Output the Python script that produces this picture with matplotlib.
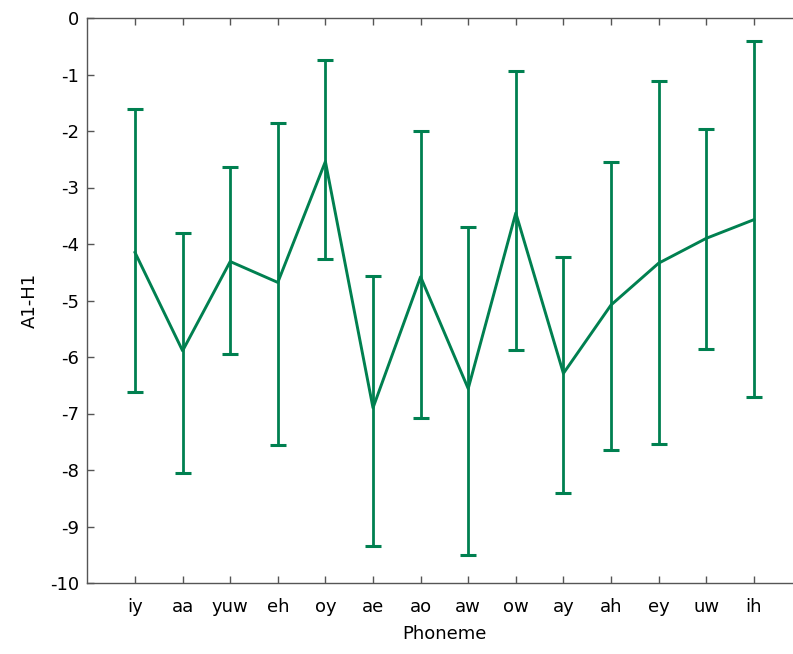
import numpy as np
import matplotlib
matplotlib.use("Agg")
import matplotlib.pyplot as plt

phonemes = ["iy", "aa", "yuw", "eh", "oy", "ae", "ao", "aw", "ow", "ay", "ah", "ey", "uw", "ih"]
mean_a1h1 = [-4.15, -5.89, -4.31, -4.68, -2.54, -6.90, -4.58, -6.56, -3.45, -6.29, -5.08, -4.34, -3.90, -3.57]
upper = [-1.61, -3.81, -2.63, -1.85, -0.75, -4.56, -2.00, -3.70, -0.94, -4.23, -2.54, -1.11, -1.97, -0.41]
lower = [-6.62, -8.05, -5.95, -7.56, -4.26, -9.35, -7.08, -9.51, -5.88, -8.41, -7.64, -7.54, -5.85, -6.70]

green = "#008050"
spine_col = "#555555"

mean_a1h1 = np.array(mean_a1h1)
err = [mean_a1h1 - np.array(lower), np.array(upper) - mean_a1h1]
x = np.arange(1, len(phonemes) + 1)

plt.rcParams["font.family"] = "DejaVu Sans"
plt.rcParams["axes.unicode_minus"] = False
fig = plt.figure(figsize=(7.93, 6.54), dpi=100)
W, H = 793, 654
# axes run a little past the right edge of the figure
ax = fig.add_axes([87.4 / W, 71 / H, (801.4 - 87.4) / W, (583 - 18) / H])

ax.errorbar(x, mean_a1h1, yerr=err, color=green, lw=2.1, elinewidth=2.0,
            capsize=5.5, capthick=2.2)

ax.set_xlim(0, 15)
ax.set_ylim(-10, 0)
ax.set_yticks(np.arange(-10, 1, 1))
ax.set_xticks(x)
ax.set_xticklabels(phonemes)
ax.tick_params(direction="in", length=5, width=1, color=spine_col,
               labelsize=13, top=True, right=False, pad=6)
ax.tick_params(axis="x", pad=11)
for s in ax.spines.values():
    s.set_color(spine_col)
    s.set_linewidth(1)
ax.spines["right"].set_visible(False)

ax.set_xlabel("Phoneme", fontsize=13, labelpad=6)
ax.set_ylabel("A1-H1", fontsize=13, labelpad=8)

fig.savefig("out.png", dpi=100)
